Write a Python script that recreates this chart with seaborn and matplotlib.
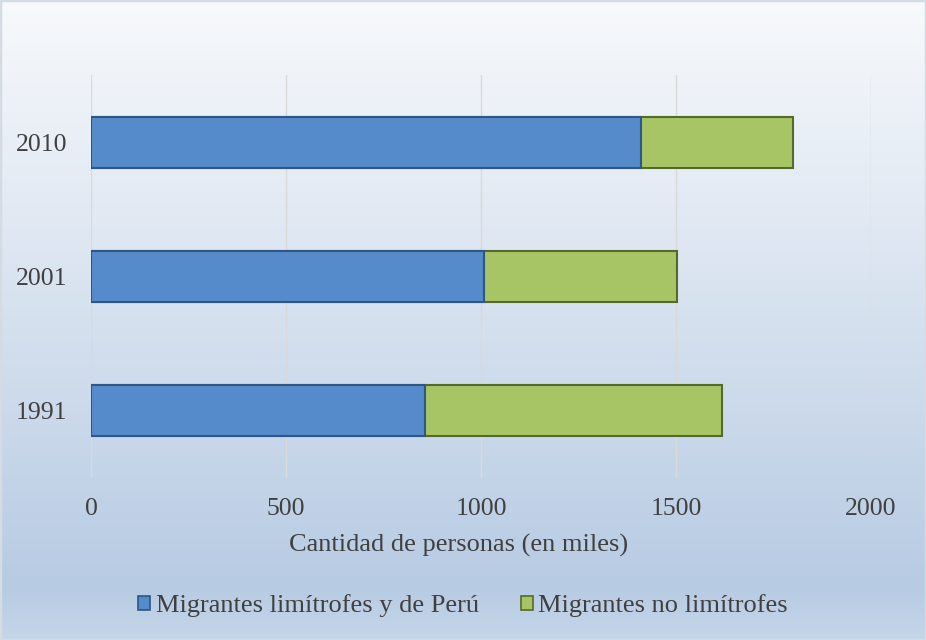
import numpy as np
import pandas as pd
import matplotlib.pyplot as plt
from matplotlib.patches import Patch, Rectangle
from matplotlib.colors import LinearSegmentedColormap
import seaborn as sns

years = ["2010", "2001", "1991"]
limitrofes = [1410, 1008, 857]
no_limitrofes = [390, 494, 760]
series_names = ["Migrantes limítrofes y de Perú", "Migrantes no limítrofes"]
xticks = [0, 500, 1000, 1500, 2000]

df = pd.DataFrame({"anio": years, "limitrofes": limitrofes, "no_limitrofes": no_limitrofes})
df["total"] = df["limitrofes"] + df["no_limitrofes"]

blue = "#558bcb"
blue_edge = "#2f5684"
green = "#a7c564"
green_edge = "#56692c"
text_color = "#404040"

sns.set_theme(style="white")
plt.rcParams["font.family"] = ["Liberation Serif", "DejaVu Serif"]

fig = plt.figure(figsize=(9.26, 6.4), dpi=100)

# gradient background
bg = fig.add_axes([0, 0, 1, 1], zorder=-1)
cmap = LinearSegmentedColormap.from_list(
    "bg", [(0, "#f7f9fc"), (0.3, "#e4ebf4"), (0.92, "#b7cbe3"), (1.0, "#c6d6e9")]
)
grad = np.linspace(0, 1, 256).reshape(-1, 1)
bg.imshow(grad, aspect="auto", cmap=cmap, extent=[0, 1, 0, 1], origin="upper")
bg.add_patch(Rectangle((0, 0), 1, 1, transform=bg.transAxes, fill=False,
                       edgecolor="#d4dbe3", lw=2.5))
bg.set_axis_off()

ax = fig.add_axes([0.0983, 0.253, 0.8423, 0.630])
ax.patch.set_alpha(0)

sns.barplot(data=df, y="anio", x="total", order=years, orient="h", color=green,
            saturation=1, width=0.38, edgecolor=green_edge, linewidth=1.5,
            errorbar=None, ax=ax)
sns.barplot(data=df, y="anio", x="limitrofes", order=years, orient="h", color=blue,
            saturation=1, width=0.38, edgecolor=blue_edge, linewidth=1.5,
            errorbar=None, ax=ax)

ax.set_xlim(0, 2000)
ax.set_ylim(2.5, -0.5)
ax.set_xticks(xticks)
ax.set_xticklabels([str(t) for t in xticks])
ax.grid(axis="x", color="#d9d9d9", lw=1)
ax.grid(axis="y", visible=False)
ax.set_axisbelow(True)
for s in ax.spines.values():
    s.set_visible(False)
ax.tick_params(axis="both", length=0, labelsize=18.5, colors=text_color)
ax.tick_params(axis="x", pad=14)
ax.tick_params(axis="y", pad=17)
ax.set_ylabel("")
ax.set_xlabel("Cantidad de personas (en miles)", fontsize=19, color=text_color)
ax.xaxis.set_label_coords(0.471, -0.168)
ax.xaxis.label.set_verticalalignment("center")

handles = [Patch(facecolor=blue, edgecolor=blue_edge, lw=1.2),
           Patch(facecolor=green, edgecolor=green_edge, lw=1.2)]
fig.legend(handles, series_names, loc="center", bbox_to_anchor=(0.5, 1 - 606 / 640),
           ncol=2, frameon=False, fontsize=19, labelcolor=text_color,
           handlelength=0.45, handleheight=0.45, handletextpad=0.2, columnspacing=1.6)

fig.savefig("out.png", dpi=100)
